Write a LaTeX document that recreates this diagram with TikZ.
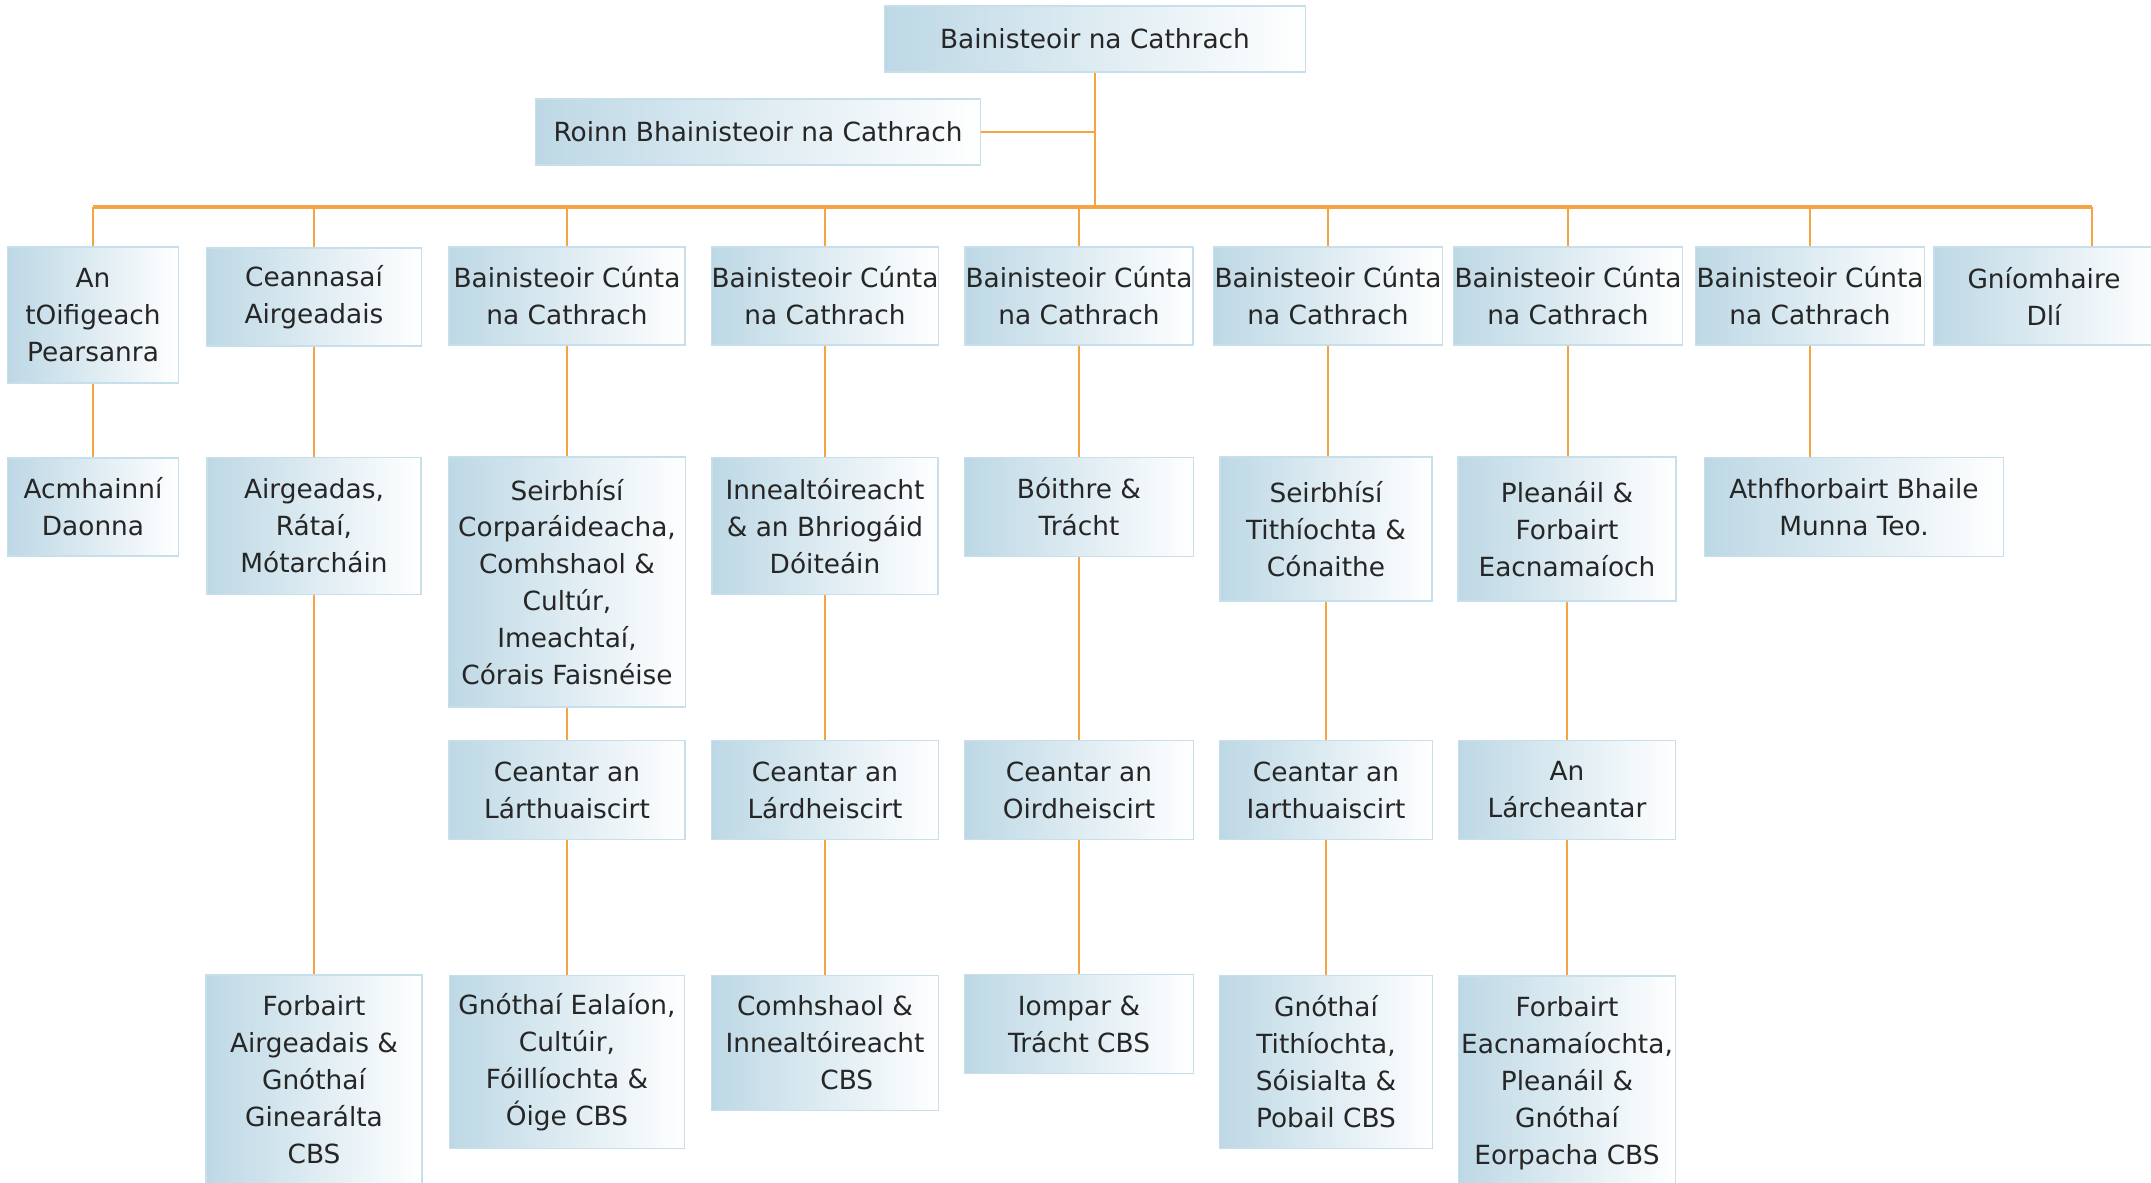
\documentclass[tikz,border=0pt]{standalone}
\usepackage{fontspec}
\setmainfont{DejaVu Sans}
\usepackage{tikz}
\usetikzlibrary{positioning,calc}
\definecolor{chartorange}{HTML}{F6A443}
\definecolor{boxblue}{HTML}{BDD8E5}
\definecolor{boxedge}{HTML}{C6DFEB}
\definecolor{inkgray}{HTML}{262626}

\begin{document}
\begin{tikzpicture}[
    x=0.01cm, y=-0.01cm,
    box/.style={rectangle, draw=boxedge, left color=boxblue, right color=white, align=center, inner sep=0pt, text=inkgray, font=\fontsize{7.5}{10.5}\selectfont},
    link/.style={draw=chartorange, line width=0.7pt}
]
    \useasboundingbox (0,0) rectangle (2151,1183);

    % top
    \node[box, minimum width=4.21cm, minimum height=0.66cm] (mgr) at (1095,39) {Bainisteoir na Cathrach};
    \node[box, minimum width=4.45cm, minimum height=0.66cm] (office) at (758,132) {Roinn Bhainisteoir na Cathrach};
    \coordinate (busL) at (93,207);
    \coordinate (busR) at (2092,207);

    % level 1
    \node[box, minimum width=1.71cm, minimum height=1.36cm] (hr) at (93,315) {An\\tOifigeach\\Pearsanra};
    \node[box, minimum width=2.15cm, minimum height=0.98cm] (finance) at (314,297) {Ceannasaí\\Airgeadais};
    \node[box, minimum width=2.36cm, minimum height=0.98cm] (acm1) at (567,296) {Bainisteoir Cúnta\\na Cathrach};
    \node[box, minimum width=2.26cm, minimum height=0.98cm] (acm2) at (825,296) {Bainisteoir Cúnta\\na Cathrach};
    \node[box, minimum width=2.28cm, minimum height=0.98cm] (acm3) at (1079,296) {Bainisteoir Cúnta\\na Cathrach};
    \node[box, minimum width=2.29cm, minimum height=0.98cm] (acm4) at (1328,296) {Bainisteoir Cúnta\\na Cathrach};
    \node[box, minimum width=2.29cm, minimum height=0.98cm] (acm5) at (1568,296) {Bainisteoir Cúnta\\na Cathrach};
    \node[box, minimum width=2.29cm, minimum height=0.98cm] (acm6) at (1810,296) {Bainisteoir Cúnta\\na Cathrach};
    \node[box, minimum width=2.20cm, minimum height=0.98cm] (law) at (2044,296) {Gníomhaire\\Dlí};

    % level 2
    \node[box, minimum width=1.71cm, minimum height=0.98cm] (hrres) at (93,507) {Acmhainní\\Daonna};
    \node[box, minimum width=2.14cm, minimum height=1.37cm] (finrates) at (314,526) {Airgeadas,\\Rátaí,\\Mótarcháin};
    \node[box, minimum width=2.37cm, minimum height=2.50cm] (corp) at (567,582) {Seirbhísí\\Corparáideacha,\\Comhshaol \&\\Cultúr,\\Imeachtaí,\\Córais Faisnéise};
    \node[box, minimum width=2.26cm, minimum height=1.37cm] (fire) at (825,526) {Innealtóireacht\\\& an Bhriogáid\\Dóiteáin};
    \node[box, minimum width=2.29cm, minimum height=0.99cm] (roads) at (1079,507) {Bóithre \&\\Trácht};
    \node[box, minimum width=2.12cm, minimum height=1.44cm] (housing) at (1326,529) {Seirbhísí\\Tithíochta \&\\Cónaithe};
    \node[box, minimum width=2.18cm, minimum height=1.44cm] (planning) at (1567,529) {Pleanáil \&\\Forbairt\\Eacnamaíoch};
    \node[box, minimum width=2.99cm, minimum height=0.99cm] (munna) at (1854,507) {Athfhorbairt Bhaile\\Munna Teo.};

    % level 3
    \node[box, minimum width=2.36cm, minimum height=0.99cm] (areaNC) at (567,790) {Ceantar an\\Lárthuaiscirt};
    \node[box, minimum width=2.27cm, minimum height=0.99cm] (areaSC) at (825,790) {Ceantar an\\Lárdheiscirt};
    \node[box, minimum width=2.29cm, minimum height=0.99cm] (areaSE) at (1079,790) {Ceantar an\\Oirdheiscirt};
    \node[box, minimum width=2.13cm, minimum height=0.99cm] (areaNW) at (1326,790) {Ceantar an\\Iarthuaiscirt};
    \node[box, minimum width=2.17cm, minimum height=0.99cm] (areaC) at (1567,790) {An\\Lárcheantar};

    % level 4
    \node[box, minimum width=2.16cm, minimum height=2.10cm] (sppFin) at (314,1080) {Forbairt\\Airgeadais \&\\Gnóthaí\\Ginearálta\\CBS};
    \node[box, minimum width=2.35cm, minimum height=1.73cm] (sppArts) at (567,1062) {Gnóthaí Ealaíon,\\Cultúir,\\Fóillíochta \&\\Óige CBS};
    \node[box, minimum width=2.27cm, minimum height=1.35cm] (sppEnv) at (825,1043) {Comhshaol \&\\Innealtóireacht\\\hspace*{1.65em}CBS};
    \node[box, minimum width=2.29cm, minimum height=0.99cm] (sppTrans) at (1079,1024) {Iompar \&\\Trácht CBS};
    \node[box, minimum width=2.13cm, minimum height=1.73cm] (sppHouse) at (1326,1062) {Gnóthaí\\Tithíochta,\\Sóisialta \&\\Pobail CBS};
    \node[box, minimum width=2.17cm, minimum height=2.14cm] (sppEcon) at (1567,1083) {Forbairt\\Eacnamaíochta,\\Pleanáil \&\\Gnóthaí\\Eorpacha CBS};

    % lines
    \draw[link] (mgr.south) -- (mgr.south |- busL);
    \draw[link] (office.east) -- (office.east -| mgr.south);
    \draw[link, line width=1pt] (busL) -- (busR);
    \foreach \n in {hr,finance,acm1,acm2,acm3,acm4,acm5,acm6}
        \draw[link] (\n.north) -- (\n.north |- busL);
    \draw[link] (busR) -- (busR |- law.north);
    \foreach \a/\b in {hr/hrres, finance/finrates, finrates/sppFin,
        acm1/corp, corp/areaNC, areaNC/sppArts,
        acm2/fire, fire/areaSC, areaSC/sppEnv,
        acm3/roads, roads/areaSE, areaSE/sppTrans,
        acm4/housing, housing/areaNW, areaNW/sppHouse,
        acm5/planning, planning/areaC, areaC/sppEcon,
        acm6/munna}
        \draw[link] (\a.south) -- (\a.south |- \b.north);
\end{tikzpicture}
\end{document}
